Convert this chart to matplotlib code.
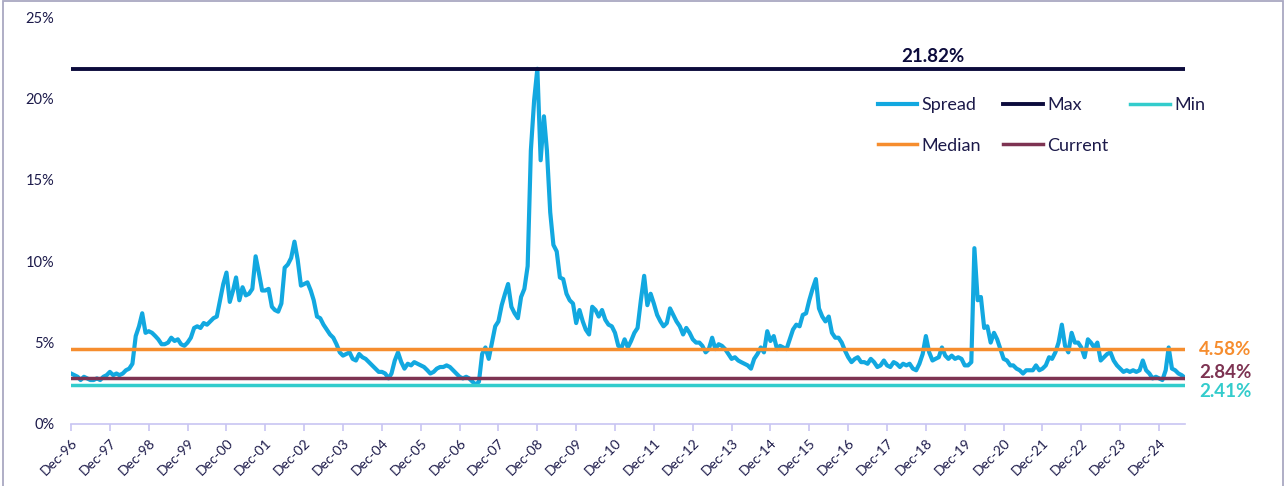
""" High yield spread history with max / min / median / current markers. """

import matplotlib
matplotlib.use("Agg")
import matplotlib.pyplot as plt
from matplotlib.patches import Rectangle
import pandas as pd

# monthly spread (%), Dec-96 .. Aug-25
start_month = "1996-12-01"
spread = [
    3.1,
    # 1997
    3.0, 2.9, 2.7, 2.9, 2.8, 2.7, 2.7, 2.8, 2.7, 2.9, 3.0, 3.2,
    # 1998
    3.0, 3.1, 3.0, 3.1, 3.3, 3.4, 3.7, 5.4, 6.0, 6.8, 5.6, 5.7,
    # 1999
    5.6, 5.4, 5.2, 4.9, 4.9, 5.0, 5.3, 5.1, 5.2, 4.9, 4.8, 5.0,
    # 2000
    5.3, 5.9, 6.0, 5.9, 6.2, 6.1, 6.3, 6.5, 6.6, 7.6, 8.6, 9.3,
    # 2001
    7.5, 8.2, 9.0, 7.6, 8.4, 7.9, 8.0, 8.3, 10.3, 9.3, 8.2, 8.2,
    # 2002
    8.3, 7.2, 7.0, 6.9, 7.4, 9.6, 9.8, 10.2, 11.2, 10.1, 8.5, 8.6,
    # 2003
    8.7, 8.2, 7.6, 6.6, 6.5, 6.1, 5.8, 5.5, 5.3, 4.9, 4.4, 4.2,
    # 2004
    4.3, 4.4, 4.0, 3.9, 4.3, 4.1, 4.0, 3.8, 3.6, 3.4, 3.2, 3.2,
    # 2005
    3.1, 2.8, 3.1, 3.9, 4.4, 3.8, 3.4, 3.7, 3.6, 3.8, 3.7, 3.6,
    # 2006
    3.5, 3.3, 3.1, 3.2, 3.4, 3.5, 3.5, 3.6, 3.5, 3.3, 3.1, 2.9,
    # 2007
    2.8, 2.9, 2.8, 2.6, 2.41, 2.6, 4.3, 4.7, 4.0, 5.0, 6.0, 6.3,
    # 2008
    7.3, 8.0, 8.6, 7.2, 6.8, 6.5, 7.8, 8.3, 9.7, 16.8, 19.9, 21.82,
    # 2009
    16.2, 18.9, 16.8, 13.0, 11.0, 10.6, 9.0, 8.9, 8.0, 7.6, 7.4, 6.2,
    # 2010
    7.0, 6.3, 5.8, 5.5, 7.2, 7.0, 6.6, 7.0, 6.4, 6.1, 6.0, 5.6,
    # 2011
    4.8, 4.7, 5.2, 4.7, 5.1, 5.6, 5.9, 7.6, 9.1, 7.3, 8.0, 7.4,
    # 2012
    6.7, 6.3, 6.0, 6.2, 7.1, 6.7, 6.3, 6.0, 5.5, 5.9, 5.6, 5.2,
    # 2013
    5.0, 5.0, 4.8, 4.4, 4.6, 5.3, 4.6, 4.9, 4.8, 4.6, 4.3, 4.0,
    # 2014
    4.1, 3.9, 3.8, 3.7, 3.6, 3.4, 4.0, 4.3, 4.7, 4.4, 5.7, 5.1,
    # 2015
    5.4, 4.6, 4.8, 4.7, 4.6, 5.2, 5.8, 6.1, 6.0, 6.7, 6.8, 7.6,
    # 2016
    8.3, 8.9, 7.1, 6.6, 6.3, 6.6, 5.6, 5.3, 5.3, 5.0, 4.5, 4.1,
    # 2017
    3.8, 4.0, 4.1, 3.8, 3.8, 3.7, 4.0, 3.8, 3.5, 3.6, 3.9, 3.6,
    # 2018
    3.5, 3.8, 3.7, 3.5, 3.7, 3.6, 3.7, 3.4, 3.3, 3.7, 4.3, 5.4,
    # 2019
    4.4, 3.9, 4.0, 4.1, 4.7, 4.2, 4.0, 4.2, 4.0, 4.1, 4.0, 3.6,
    # 2020
    3.6, 3.8, 10.8, 7.6, 7.8, 5.9, 6.0, 5.0, 5.6, 5.2, 4.6, 4.0,
    # 2021
    3.9, 3.6, 3.6, 3.4, 3.3, 3.1, 3.3, 3.3, 3.3, 3.6, 3.3, 3.4,
    # 2022
    3.6, 4.1, 4.0, 4.4, 5.0, 6.1, 4.8, 4.4, 5.6, 5.0, 5.0, 4.7,
    # 2023
    4.1, 5.2, 5.0, 4.7, 5.0, 3.9, 4.1, 4.3, 4.4, 3.9, 3.6, 3.4,
    # 2024
    3.2, 3.3, 3.2, 3.3, 3.2, 3.3, 3.9, 3.3, 3.1, 2.8, 2.9, 2.8,
    # 2025
    2.7, 3.3, 4.7, 3.4, 3.3, 3.1, 3.0, 2.84,
]

max_val = 21.82
min_val = 2.41
median_val = 4.58
current_val = 2.84

y_ticks = [0, 5, 10, 15, 20, 25]

SPREAD_C = "#12A8E0"
MAX_C = "#0C0B3C"
MIN_C = "#33CCCC"
MEDIAN_C = "#F68D2E"
CURRENT_C = "#7D3352"
TEXT_C = "#1C1A4A"
AXIS_C = "#C8C5F2"


def main():
    plt.rcParams["font.family"] = ["Lato", "DejaVu Sans"]

    dates = pd.date_range(start_month, periods=len(spread), freq="MS")
    n = len(dates)
    tick_dates = pd.date_range(start_month, "2024-12-01", freq="12MS")
    tick_labels = [d.strftime("%b-%y") for d in tick_dates]

    fig = plt.figure(figsize=(12.87, 4.86), dpi=100)
    ax = fig.add_axes([0.0552, 0.1276, 0.8655, 0.8374])

    h_spread, = ax.plot(dates, spread, color=SPREAD_C, lw=3.0, label="Spread",
                        solid_joinstyle="round", zorder=2)
    h_max, = ax.plot(dates, [max_val] * n, color=MAX_C, lw=2.8, label="Max", zorder=3)
    h_min, = ax.plot(dates, [min_val] * n, color=MIN_C, lw=2.5, label="Min", zorder=3)
    h_med, = ax.plot(dates, [median_val] * n, color=MEDIAN_C, lw=2.5, label="Median", zorder=3)
    h_cur, = ax.plot(dates, [current_val] * n, color=CURRENT_C, lw=2.5, label="Current", zorder=3)

    ax.set_xlim(dates[0], dates[-1])
    ax.set_ylim(0, 25)
    ax.set_yticks(y_ticks)
    ax.set_yticklabels([f"{v}%" for v in y_ticks])
    ax.set_xticks(tick_dates)
    ax.set_xticklabels(tick_labels, rotation=45, ha="right", rotation_mode="anchor")

    for s in ("top", "right", "left"):
        ax.spines[s].set_visible(False)
    ax.spines["bottom"].set_color(AXIS_C)
    ax.spines["bottom"].set_linewidth(1.2)
    ax.tick_params(axis="x", length=5, width=1.2, color=AXIS_C, labelsize=10,
                   labelcolor=TEXT_C, pad=4)
    ax.tick_params(axis="y", length=0, labelsize=10.5, labelcolor=TEXT_C, pad=12)

    # value labels
    ax.annotate(f"{max_val:.2f}%", xy=(0.774, max_val), xycoords=("axes fraction", "data"),
                xytext=(0, 3), textcoords="offset points", ha="center", va="bottom",
                fontsize=13.5, fontweight="bold", color=MAX_C)
    side = [(median_val, MEDIAN_C, 0), (current_val, CURRENT_C, 4), (min_val, MIN_C, -5)]
    for val, col, dy in side:
        ax.annotate(f"{val:.2f}%", xy=(1, val), xycoords=("axes fraction", "data"),
                    xytext=(10, dy), textcoords="offset points", ha="left", va="center",
                    fontsize=13.5, fontweight="bold", color=col)

    leg = ax.legend([h_spread, h_med, h_max, h_cur, h_min],
                    ["Spread", "Median", "Max", "Current", "Min"],
                    ncol=3, loc="upper left", bbox_to_anchor=(0.724, 0.803),
                    frameon=False, fontsize=13, handlelength=2.2, handletextpad=0.25,
                    columnspacing=1.2, labelspacing=1.35, borderaxespad=0, borderpad=0)
    for t in leg.get_texts():
        t.set_color(TEXT_C)

    fig.add_artist(Rectangle((0.0023, -0.01), 0.9946, 1.0075, transform=fig.transFigure,
                             fill=False, edgecolor="#A9A8C2", lw=1.3))

    fig.savefig("out.png", dpi=100)


if __name__ == "__main__":
    main()
